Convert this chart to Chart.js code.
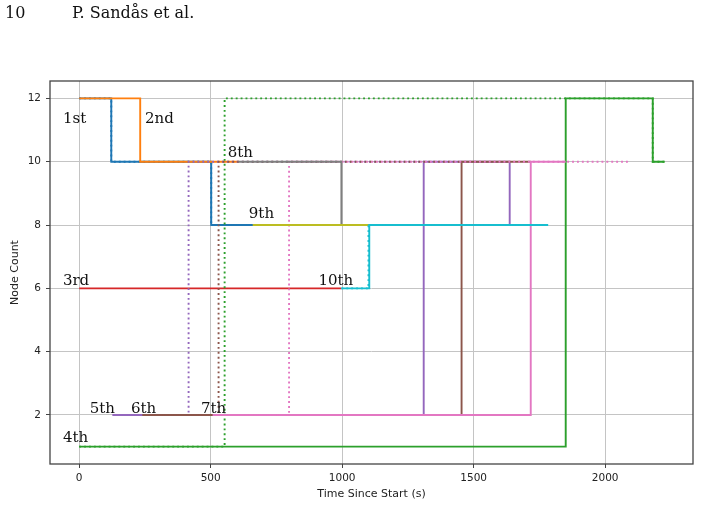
<!DOCTYPE html>
<html><head><meta charset="utf-8">
<script src="https://cdn.jsdelivr.net/npm/chart.js@4"></script>
<style>html,body{margin:0;padding:0;background:#fff}</style>
</head><body>
<canvas id="c" width="701" height="507" style="display:block;width:701px;height:507px"></canvas>
<script>
// ---- data (time in s, node count) ----
const run1Time = [0, 122, 502, 660];     const run1Nodes = [12, 10, 8, 8];
const run2Time = [0, 232, 605];          const run2Nodes = [12, 10, 10];
const run3Time = [0, 997];               const run3Nodes = [6, 6];
const run4Time = [0, 1850, 2181, 2226];  const run4Nodes = [1, 12, 10, 10];
const run5Time = [127, 1310, 1637, 1700];const run5Nodes = [2, 10, 8, 8];
const run6Time = [241, 1454, 1717];      const run6Nodes = [2, 10, 10];
const run7Time = [508, 1717, 1850];      const run7Nodes = [2, 10, 10];
const run8Time = [605, 997, 1100];       const run8Nodes = [10, 8, 8];
const run9Time = [660, 1103];            const run9Nodes = [8, 8];
const run10Time = [997, 1103, 1783];     const run10Nodes = [6, 8, 8];
// dotted traces
const dot1Time = [0, 122, 502, 660];     const dot1Nodes = [12, 10, 8, 8];
const dot4Time = [0, 553, 2181, 2226];   const dot4Nodes = [1, 12, 10, 10];
const dot5Time = [127, 416, 1310];       const dot5Nodes = [2, 10, 10];
const dot6Time = [241, 530, 1454];       const dot6Nodes = [2, 10, 10];
const dot7Time = [508, 798, 2089];       const dot7Nodes = [2, 10, 10];
const dot10Time = [997, 1100, 1783];     const dot10Nodes = [6, 8, 8];

const runLabels = ['1st','2nd','3rd','4th','5th','6th','7th','8th','9th','10th'];
const labelTime  = [-62, 250, -62, -62, 40, 197, 463, 565, 645, 910];
const labelNodes = [11.21, 11.21, 6.1, 1.15, 2.06, 2.06, 2.06, 10.14, 8.21, 6.1];

const xTicks = [0, 500, 1000, 1500, 2000];
const yTicks = [2, 4, 6, 8, 10, 12];

const palette = ['#1f77b4','#ff7f0e','#2ca02c','#d62728','#9467bd','#8c564b','#e377c2','#7f7f7f','#bcbd22','#17becf'];

function pts(t, n){ return t.map((v,i)=>({x:v, y:n[i]})); }
const series = [
  [run1Time, run1Nodes, 0, false],
  [dot1Time, dot1Nodes, 0, true],
  [run2Time, run2Nodes, 1, false],
  [run3Time, run3Nodes, 3, false],
  [run4Time, run4Nodes, 2, false],
  [dot4Time, dot4Nodes, 2, true],
  [run5Time, run5Nodes, 4, false],
  [dot5Time, dot5Nodes, 4, true],
  [run6Time, run6Nodes, 5, false],
  [dot6Time, dot6Nodes, 5, true],
  [run7Time, run7Nodes, 6, false],
  [dot7Time, dot7Nodes, 6, true],
  [run8Time, run8Nodes, 7, false],
  [run9Time, run9Nodes, 8, false],
  [run10Time, run10Nodes, 9, false],
  [dot10Time, dot10Nodes, 9, true],
];
const datasets = series.map((s, i) => ({
  data: pts(s[0], s[1]),
  showLine: true,
  stepped: 'before',
  borderColor: palette[s[2]],
  backgroundColor: palette[s[2]],
  borderWidth: 1.9,
  borderDash: s[3] ? [1.9, 3] : [],
  pointRadius: 0,
  fill: false,
  order: -i
}));

const overlay = {
  id: 'overlay',
  afterDatasetsDraw(chart){
    const ctx = chart.ctx, xs = chart.scales.x, ys = chart.scales.y, a = chart.chartArea;
    ctx.save();
    ctx.fillStyle = '#111';
    ctx.font = '15px "DejaVu Serif"';
    ctx.textAlign = 'left'; ctx.textBaseline = 'alphabetic';
    runLabels.forEach((l, i) => ctx.fillText(l, xs.getPixelForValue(labelTime[i]), ys.getPixelForValue(labelNodes[i])));
    ctx.strokeStyle = '#444'; ctx.lineWidth = 1.3;
    ctx.strokeRect(a.left, a.top, a.right - a.left, a.bottom - a.top);
    ctx.font = '16px "DejaVu Serif"';
    ctx.fillText('10', 5, 18);
    ctx.fillText('P. Sandås et al.', 72, 18);
    ctx.restore();
  }
};

new Chart(document.getElementById('c'), {
  type: 'scatter',
  data: { datasets },
  options: {
    responsive: false, animation: false, devicePixelRatio: 1,
    layout: { padding: { top: 81, right: 8, left: 0, bottom: 0 } },
    plugins: { legend: { display: false }, tooltip: { enabled: false } },
    scales: {
      x: {
        type: 'linear', min: -111, max: 2334,
        afterBuildTicks: s => { s.ticks = xTicks.map(v => ({value: v})); },
        afterFit: s => { s.height = 43; },
        grid: { color: '#c4c4c4', lineWidth: 1, tickColor: '#444', tickLength: 4, drawTicks: true },
        border: { display: false },
        ticks: { color: '#222', font: { family: 'DejaVu Sans', size: 10.5 }, padding: 4, maxRotation: 0, callback: v => String(v) },
        title: { display: true, text: 'Time Since Start (s)', color: '#222', font: { family: 'DejaVu Sans', size: 11 }, padding: { top: 0, bottom: 6 } }
      },
      y: {
        type: 'linear', min: 0.45, max: 12.55,
        afterBuildTicks: s => { s.ticks = yTicks.map(v => ({value: v})); },
        afterFit: s => { s.width = 50; },
        grid: { color: '#c4c4c4', lineWidth: 1, tickColor: '#444', tickLength: 4, drawTicks: true },
        border: { display: false },
        ticks: { color: '#222', font: { family: 'DejaVu Sans', size: 10.5 }, padding: 5, callback: v => String(v) },
        title: { display: true, text: 'Node Count', color: '#222', font: { family: 'DejaVu Sans', size: 11 }, padding: { top: 9, bottom: 0 } }
      }
    }
  },
  plugins: [overlay]
});
</script>
</body></html>
